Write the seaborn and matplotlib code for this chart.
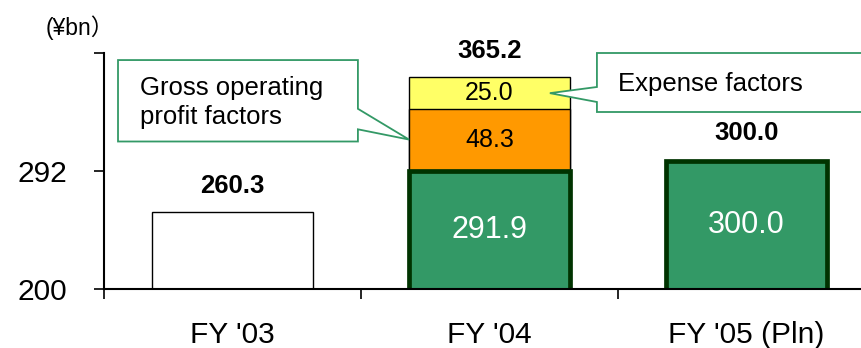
import matplotlib
matplotlib.use("Agg")
import matplotlib.pyplot as plt
from matplotlib.patches import Polygon
import pandas as pd
import seaborn as sns

# ---- data ----
categories = ["FY '03", "FY '04", "FY '05 (Pln)"]
base_values = [260.3, 291.9, 300.0]
gross_op_factor = 48.3     # FY '04 increase from gross operating profit
expense_factor = 25.0      # FY '04 increase from expenses
y_ticks = [200, 292, 384]
y_tick_labels = ["200", "292", ""]
unit_label = "(¥bn）"
callout_left = "Gross operating\nprofit factors"
callout_right = "Expense factors"

# ---- style ----
GREEN = "#339966"
DARK_GREEN = "#003300"
ORANGE = "#FF9900"
YELLOW = "#FFFF66"
CALLOUT = "#339966"

sns.set_theme(style="ticks", rc={
    "axes.edgecolor": "black", "text.color": "black",
    "xtick.color": "black", "ytick.color": "black",
    "axes.labelcolor": "black",
})
plt.rcParams["font.family"] = ["Liberation Sans", "Noto Sans CJK JP", "DejaVu Sans"]

fig = plt.figure(figsize=(8.61, 3.48), dpi=100)
ax = fig.add_axes([104 / 861, 59 / 348, 771 / 861, 236 / 348])

BAR_W = 0.626
mid_top = base_values[1] + gross_op_factor
total_top = mid_top + expense_factor

# FY '04 stack: tallest layer first, lower layers paint over it
sns.barplot(x=[categories[1]], y=[total_top], order=categories, color=YELLOW,
            saturation=1, width=BAR_W, edgecolor="black", linewidth=1.0, ax=ax)
sns.barplot(x=[categories[1]], y=[mid_top], order=categories, color=ORANGE,
            saturation=1, width=BAR_W, edgecolor="black", linewidth=1.0, ax=ax)

df = pd.DataFrame({"year": categories, "value": base_values})
n_before = len(ax.patches)
sns.barplot(data=df, x="year", y="value", hue="year", order=categories,
            hue_order=categories, palette=["white", GREEN, GREEN], saturation=1,
            width=BAR_W, legend=False, ax=ax)

edge_lw = {}
for p in ax.patches[n_before:]:
    idx = int(round(p.get_x() + p.get_width() / 2))
    if idx == 0:
        p.set_edgecolor("black")
        p.set_linewidth(1.0)
    else:
        p.set_edgecolor(DARK_GREEN)
        p.set_linewidth(3.4)
    edge_lw[idx] = p.get_linewidth()

ax.set_ylim(y_ticks[0], y_ticks[-1])
ax.set_xlim(-0.5, 2.5)
ylo = y_ticks[0]

# value labels
ax.text(1, (ylo + base_values[1]) / 2, f"{base_values[1]:.1f}", color="white",
        ha="center", va="center", fontsize=22)
ax.text(2, (ylo + base_values[2]) / 2, f"{base_values[2]:.1f}", color="white",
        ha="center", va="center", fontsize=22)
ax.text(1, (base_values[1] + mid_top) / 2, f"{gross_op_factor:.1f}",
        ha="center", va="center", fontsize=18)
ax.text(1, (mid_top + total_top) / 2, f"{expense_factor:.1f}",
        ha="center", va="center", fontsize=18)

tops = [base_values[0], total_top, base_values[2]]
for i, t in enumerate(tops):
    off = 18.5 + (edge_lw[i] / 2 if i == 2 else 0)
    ax.annotate(f"{t:.1f}", xy=(i, t), xytext=(0, off), textcoords="offset points",
                ha="center", va="center", fontsize=18.5, fontweight="bold")

# callouts
left_box = [(-0.4455, 378.5), (0.488, 378.5), (0.488, 340.5), (1 - BAR_W / 2, 316.5),
            (0.488, 324.5), (0.488, 315.0), (-0.4455, 315.0)]
ax.add_patch(Polygon(left_box, closed=True, facecolor="white", edgecolor=CALLOUT,
                     linewidth=1.3, zorder=5, clip_on=False))
ax.text(-0.36, 345.5, callout_left, ha="left", va="center", fontsize=18.5,
        linespacing=1.3, zorder=6)

right_box = [(1.418, 384), (2.7, 384), (2.7, 338), (1.418, 338), (1.418, 345.8),
             (1.235, (mid_top + total_top) / 2), (1.418, 357.5)]
ax.add_patch(Polygon(right_box, closed=True, facecolor="white", edgecolor=CALLOUT,
                     linewidth=1.3, zorder=5, clip_on=False))
ax.text(1.5, 359.8, callout_right, ha="left", va="center", fontsize=18.5, zorder=6)

# axes and ticks
ax.set_yticks(y_ticks)
ax.set_yticklabels(y_tick_labels)
ax.set_xticks(range(len(categories)))
ax.set_xticklabels(categories)
ax.set_xticks([-0.5, 0.5, 1.5, 2.5], minor=True)
ax.tick_params(axis="x", which="major", length=0, pad=23, labelsize=21.5)
ax.tick_params(axis="x", which="minor", length=7, width=1.2, direction="out")
ax.tick_params(axis="y", length=7, width=1.2, pad=19.5, labelsize=21.5, direction="out")
ax.set_xlabel("")
ax.set_ylabel("")
sns.despine(ax=ax)
for s in ("left", "bottom"):
    ax.spines[s].set_linewidth(1.5)
    ax.spines[s].set_color("black")

fig.text(80 / 861, 1 - 28 / 348, unit_label, ha="center", va="center", fontsize=16.5)

fig.savefig("out.png", dpi=100)
